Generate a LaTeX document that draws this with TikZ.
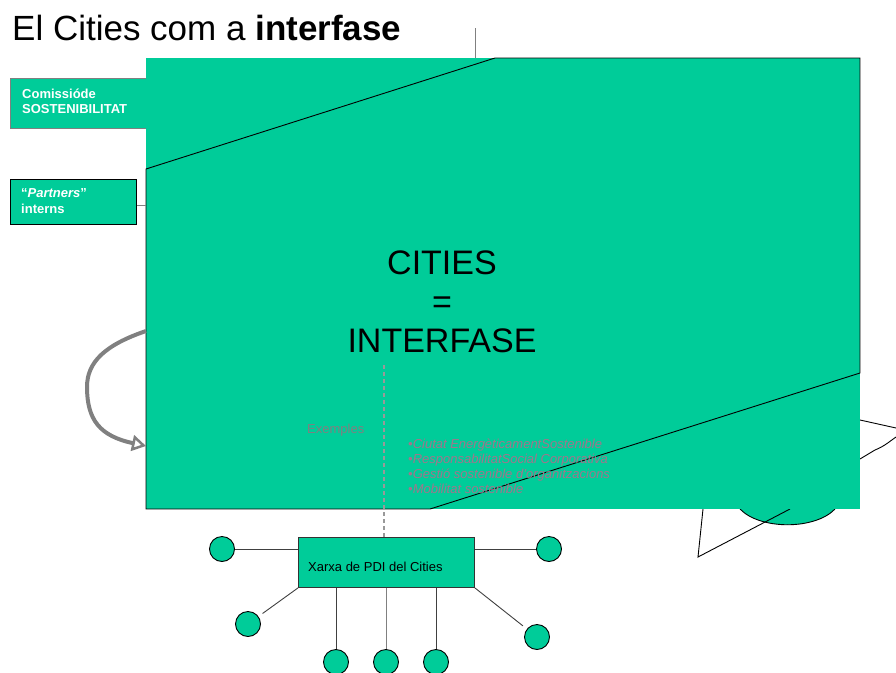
\documentclass[tikz,border=0pt]{standalone}
\usepackage{fontspec}
\setmainfont{Liberation Sans}
\usetikzlibrary{arrows.meta}
\definecolor{cgreen}{RGB}{0,204,153}
\definecolor{bullc}{RGB}{160,118,140}
\definecolor{exgray}{RGB}{128,128,128}
\begin{document}
\begin{tikzpicture}[x=1pt,y=-1pt,
  txt/.style={inner sep=0pt,anchor=base west},
  circ/.style={circle,draw=black,fill=cgreen,minimum size=25pt,inner sep=0pt,line width=0.9pt},
  link/.style={draw=black!75,line width=0.9pt},
  graylink/.style={draw=black!50,line width=0.9pt},
  outl/.style={draw=black,line width=0.9pt},
  whitebold/.style={inner sep=0pt,anchor=base west,text=white,font=\fontsize{13}{15}\selectfont\bfseries}
]
\useasboundingbox (0,0) rectangle (896,672);
% hidden shape on the right (behind main panel)
\fill[cgreen] (740,509) .. controls (760,530) and (815,530) .. (835,509) -- cycle;
\draw[outl] (740,509) .. controls (760,530) and (815,530) .. (835,509);
\draw[outl] (790,509) -- (698,557) -- (703,509);
\draw[outl] (860,420) -- (896,428);
\draw[outl] (896,437) .. controls (890,441) and (885,446) .. (875,450) -- (860,459);
% commission box (behind main panel)
\node[draw=black!50,fill=cgreen,line width=0.9pt,minimum width=150pt,minimum height=50pt,anchor=north west,inner sep=0pt] (comis) at (10,78) {};
\node[whitebold] (comist1) at (22,98) {Comissióde};
\node[whitebold] (comist2) at (22,113) {SOSTENIBILITAT};
% thin line above panel
\coordinate (vtop) at (475,28);
\coordinate (vbot) at (475,58);
\draw[graylink] (vtop) -- (vbot);
% main panel
\fill[cgreen] (146,58) rectangle (860,509);
\draw[outl] (495,58) -- (860,58) -- (860,373) -- (430,509) -- (146,509) -- (146,169) -- cycle;
% partners box
\node[draw=black,fill=cgreen,line width=0.9pt,minimum width=126pt,minimum height=45pt,anchor=north west,inner sep=0pt] (partn) at (10,179) {};
\node[whitebold] (partt1) at (21,197) {“\textit{Partners}”};
\node[whitebold] (partt2) at (21,213) {interns};
\coordinate (pedge) at (146,205);
\draw[graylink] (partn.east |- pedge) -- (pedge);
% curved arrow
\coordinate (arrs) at (146,331);
\coordinate (arre) at (146,446);
\draw[draw=black!50,line width=4pt,-{Triangle[open,length=14pt,width=16pt,line width=2.5pt]}]
  (arrs) .. controls (105,345) and (87,362) .. (87,387) .. controls (87,420) and (100,436) .. (arre);
% central text
\node[inner sep=0pt,anchor=base,font=\fontsize{34}{39}\selectfont] (t1) at (442,274) {CITIES};
\node[inner sep=0pt,anchor=base,font=\fontsize{34}{39}\selectfont] (t2) at (442,313) {=};
\node[inner sep=0pt,anchor=base,font=\fontsize{34}{39}\selectfont] (t3) at (442,352) {INTERFASE};
% title
\node[txt,font=\fontsize{35}{40}\selectfont] (title) at (12,40) {El Cities com a \textbf{interfase}};
% examples
\node[txt,text=exgray,font=\fontsize{13}{15}\selectfont] (exem) at (307,433) {Exemples};
\node[txt,text=bullc,font=\fontsize{13}{15}\selectfont\itshape] (b1) at (408,448) {•Ciutat EnergèticamentSostenible};
\node[txt,text=bullc,font=\fontsize{13}{15}\selectfont\itshape] (b2) at (408,463) {•ResponsabilitatSocial Corporativa};
\node[txt,text=bullc,font=\fontsize{13}{15}\selectfont\itshape] (b3) at (408,478) {•Gestió sostenible d’organitzacions};
\node[txt,text=bullc,font=\fontsize{13}{15}\selectfont\itshape] (b4) at (408,493) {•Mobilitat sostenible};
% network box
\node[draw=black!80,fill=cgreen,line width=0.9pt,minimum width=176pt,minimum height=50pt,anchor=north west,inner sep=0pt] (xarxa) at (298,537) {};
\node[txt,font=\fontsize{13}{15}\selectfont] (xarxat) at (308,571) {Xarxa de PDI del Cities};
% dashed link
\coordinate (dtop) at (384,365);
\draw[draw=black!40,line width=1.4pt,dash pattern=on 4pt off 3pt] (dtop) -- (dtop |- xarxa.north);
% circles
\node[circ] (c1) at (222,549) {};
\node[circ] (c2) at (549,549) {};
\node[circ] (c3) at (248,624) {};
\node[circ] (c4) at (537,637) {};
\node[circ] (c5) at (336,662) {};
\node[circ] (c6) at (386,662) {};
\node[circ] (c7) at (436,662) {};
\draw[link] (c1.east) -- (c1.east -| xarxa.west);
\draw[link] (xarxa.east |- c2) -- (c2.west);
\draw[link,shorten >=5pt] (xarxa.south west) -- (c3);
\draw[link,shorten >=5pt] (xarxa.south east) -- (c4);
\draw[link] (c5 |- xarxa.south) -- (c5.north);
\draw[graylink] (c6 |- xarxa.south) -- (c6.north);
\draw[link] (c7 |- xarxa.south) -- (c7.north);
\end{tikzpicture}
\end{document}
